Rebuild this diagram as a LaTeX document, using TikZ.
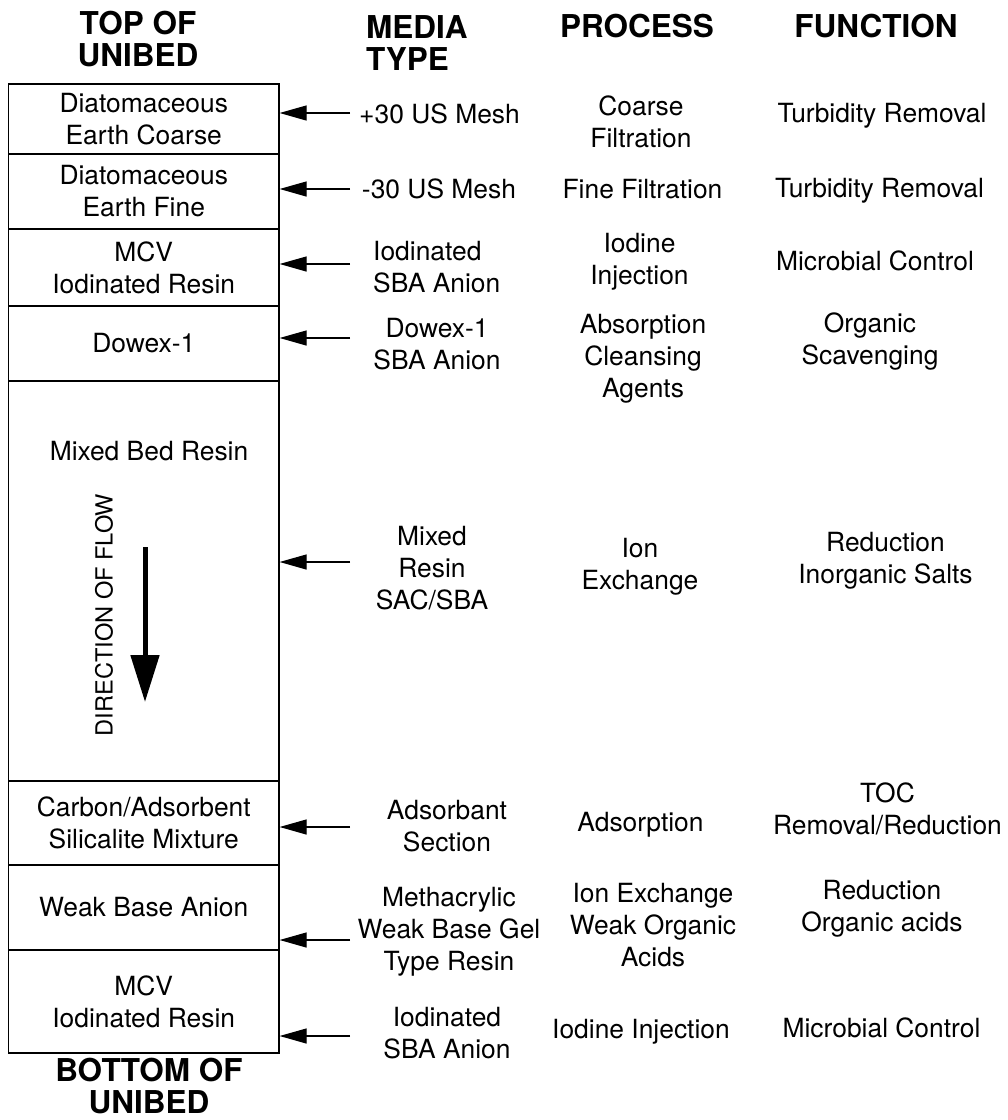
\documentclass[tikz,border=0pt]{standalone}
\usepackage{fontspec}
\setmainfont{TeX Gyre Heros}
\usepackage{tikz}
\usetikzlibrary{arrows.meta}

\begin{document}
\begin{tikzpicture}[
    x=1pt, y=-1pt,
    every node/.style={inner sep=0pt, font=\fontsize{26.4}{32}\selectfont},
    layer/.style={rectangle, draw, line width=1.2pt, minimum width=270.5pt, minimum height=#1, align=center},
    lbl/.style={align=center},
    hdr/.style={align=center, font=\fontsize{31.5}{32}\selectfont\bfseries},
    feed/.style={-{Triangle[length=27pt, width=15pt]}, line width=1.2pt},
    flow/.style={-{Triangle[length=47pt, width=28pt]}, line width=5pt},
]
    \useasboundingbox (0,0) rectangle (1008,1120);

    \node[hdr] (top) at (138,39) {TOP OF\\UNIBED};
    \node[hdr, align=left, anchor=west] (media) at (366,43.5) {MEDIA\\TYPE};
    \node[hdr] (proc) at (637,26) {PROCESS};
    \node[hdr] (func) at (876,26) {FUNCTION};
    \node[hdr] (bottom) at (149,1086) {BOTTOM OF\\UNIBED};

    \node[layer=70pt] (dec) at (143.75,119) {Diatomaceous\\Earth Coarse};
    \node[layer=75pt] (def) at (143.75,191.5) {Diatomaceous\\Earth Fine};
    \node[layer=77pt] (mcv1) at (143.75,267.5) {MCV\\Iodinated Resin};
    \node[layer=75pt] (dowex) at (143.75,343.5) {Dowex-1};
    \node[layer=400pt] (mbr) at (143.75,581) {};
    \node[layer=84pt] (carbon) at (143.75,823) {Carbon/Adsorbent\\Silicalite Mixture};
    \node[layer=85pt] (wba) at (143.75,907.5) {Weak Base Anion};
    \node[layer=103pt] (mcv2) at (143.75,1001.5) {MCV\\Iodinated Resin};
    \node (mbrtxt) at (149,451) {Mixed Bed Resin};

    \node[rotate=90, font=\fontsize{23.6}{28}\selectfont] (dir) at (104,615) {DIRECTION OF FLOW};
    \coordinate (flowtop) at (145,547);
    \coordinate (flowend) at (145,702);
    \draw[flow] (flowtop) -- (flowend);

    \foreach \n/\y in {1/113, 2/189, 3/264, 4/338, 5/562, 6/827, 7/940, 8/1036} {
        \coordinate (s\n) at (350,\y);
        \draw[feed] (s\n) -- (s\n -| dec.east);
    }

    \node[lbl] (m1) at (439.5,114) {+30 US Mesh};
    \node[lbl] (m2) at (439,189) {-30 US Mesh};
    \node[lbl, align=left, anchor=west] (m3) at (373,267.5) {Iodinated\\SBA Anion};
    \node[lbl] (m4) at (437,344) {Dowex-1\\SBA Anion};
    \node[lbl] (m5) at (432,568.5) {Mixed\\Resin\\SAC/SBA};
    \node[lbl] (m6) at (447,826) {Adsorbant\\Section};
    \node[lbl] (m7) at (449,931.5) {Methacrylic\\Weak Base Gel\\Type Resin};
    \node[lbl] (m8) at (447,1033) {Iodinated\\SBA Anion};

    \node[lbl] (p1) at (641,122) {Coarse\\Filtration};
    \node[lbl] (p2) at (642.5,189) {Fine Filtration};
    \node[lbl] (p3) at (639.5,262) {Iodine\\Injection};
    \node[lbl] (p4) at (643,359) {Absorption\\Cleansing\\Agents};
    \node[lbl] (p5) at (640,567) {Ion\\Exchange};
    \node[lbl] (p6) at (640.5,824.5) {Adsorption};
    \node[lbl] (p7) at (653,925) {Ion Exchange\\Weak Organic\\Acids};
    \node[lbl] (p8) at (641,1032) {Iodine Injection};

    \node[lbl] (f1) at (882,115.5) {Turbidity Removal};
    \node[lbl] (f2) at (879.5,190.5) {Turbidity Removal};
    \node[lbl] (f3) at (875,261) {Microbial Control};
    \node[lbl] (f4) at (870,342) {Organic\\Scavenging};
    \node[lbl] (f5) at (885.5,561) {Reduction\\Inorganic Salts};
    \node[lbl] (f6) at (887.5,808.5) {TOC\\Removal/Reduction};
    \node[lbl] (f7) at (882,909) {Reduction\\Organic acids};
    \node[lbl] (f8) at (881.5,1028) {Microbial Control};
\end{tikzpicture}
\end{document}
